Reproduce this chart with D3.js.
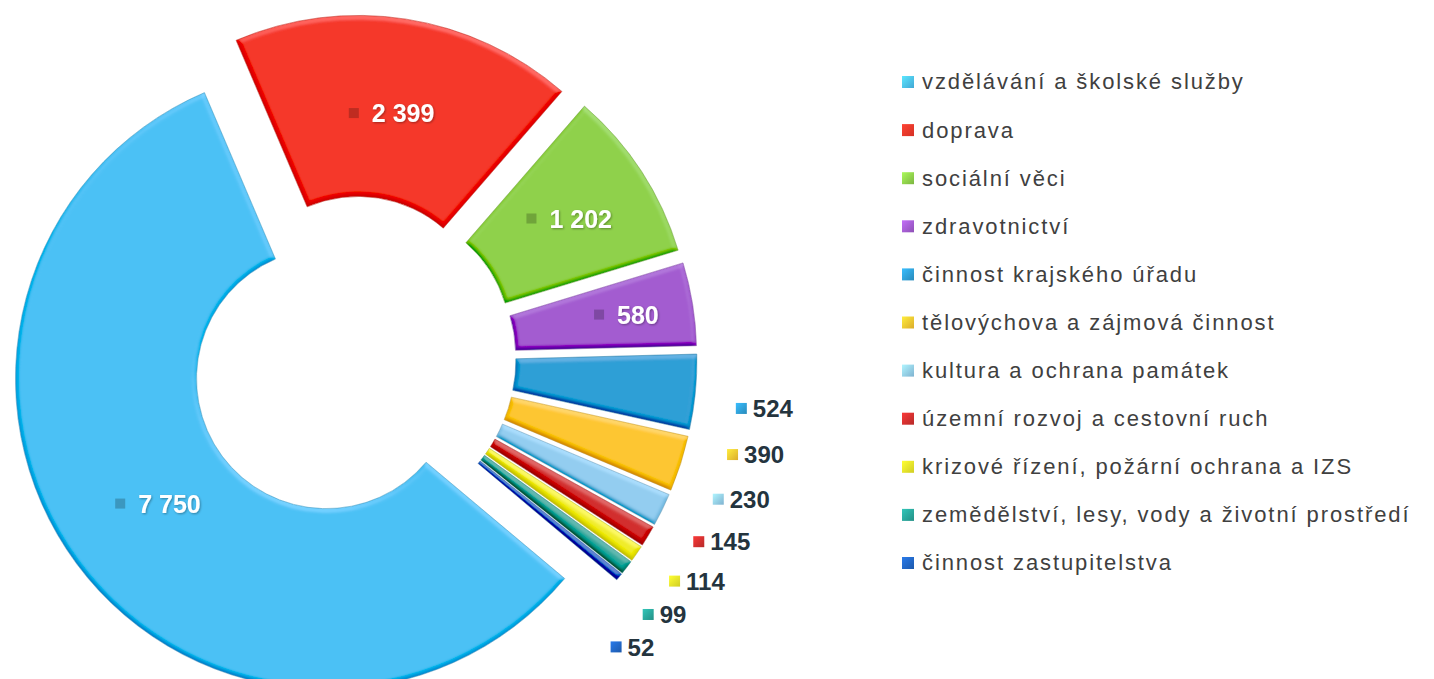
<!DOCTYPE html>
<html>
<head>
<meta charset="utf-8">
<script src="https://cdn.jsdelivr.net/npm/d3@7"></script>
<style>
  html, body { margin: 0; padding: 0; background: #ffffff; }
  svg { display: block; }
</style>
</head>
<body>
<svg id="chart" width="1434" height="679"></svg>
<script>
const categories = [
  "vzdělávání a školské služby",
  "doprava",
  "sociální věci",
  "zdravotnictví",
  "činnost krajského úřadu",
  "tělovýchova a zájmová činnost",
  "kultura a ochrana památek",
  "územní rozvoj a cestovní ruch",
  "krizové řízení, požární ochrana a IZS",
  "zemědělství, lesy, vody a životní prostředí",
  "činnost zastupitelstva"
];
const values = [7750, 2399, 1202, 580, 524, 390, 230, 145, 114, 99, 52];
const valueLabels = ["7 750", "2 399", "1 202", "580", "524", "390", "230", "145", "114", "99", "52"];
const colors = ["#4cc1f5", "#f5382b", "#8fd14b", "#a35cd0", "#2f9fd6", "#fdc632", "#93cdf0", "#d2302f", "#f0ec2a", "#2aa69b", "#2267c5"];
const labelInside = [true, true, true, true, false, false, false, false, false, false, false];

const svg = d3.select("#chart");
const W = 1434, H = 679;
const cx = 353, cy = 359;
const outerR = 311, innerR = 130, explode = 33;
const startDeg = 130;

const pie = d3.pie().sort(null).value(d => d)
  .startAngle(startDeg * Math.PI / 180)
  .endAngle((startDeg + 360) * Math.PI / 180);
const arcs = pie(values);
const arcGen = d3.arc().innerRadius(innerR).outerRadius(outerR);

const defs = svg.append("defs");
colors.forEach((c, i) => {
  const g = defs.append("linearGradient").attr("id", "key" + i)
    .attr("x1", 0).attr("y1", 0).attr("x2", 1).attr("y2", 1);
  g.append("stop").attr("offset", "0%").attr("stop-color", d3.color(c).brighter(0.5));
  g.append("stop").attr("offset", "100%").attr("stop-color", d3.color(c).darker(0.4));
});

// soft bevel filter
const elev = 50;
const bevel = defs.append("filter").attr("id", "bevel")
  .attr("x", "-5%").attr("y", "-5%").attr("width", "110%").attr("height", "110%");
bevel.append("feGaussianBlur").attr("in", "SourceAlpha").attr("stdDeviation", 2.2).attr("result", "blur");
const diff = bevel.append("feDiffuseLighting").attr("in", "blur").attr("surfaceScale", 3)
  .attr("diffuseConstant", 1).attr("lighting-color", "#ffffff").attr("result", "light");
diff.append("feDistantLight").attr("azimuth", 290).attr("elevation", elev);
bevel.append("feComposite").attr("in", "SourceGraphic").attr("in2", "light")
  .attr("operator", "arithmetic").attr("k1", 0).attr("k2", 1).attr("k3", 0.45)
  .attr("k4", -0.45 * Math.sin(elev * Math.PI / 180))
  .attr("result", "lit");
bevel.append("feComposite").attr("in", "lit").attr("in2", "SourceAlpha").attr("operator", "in");

const shadow = defs.append("filter").attr("id", "tshadow")
  .attr("x", "-10%").attr("y", "-20%").attr("width", "130%").attr("height", "150%");
shadow.append("feDropShadow").attr("dx", 1).attr("dy", 1).attr("stdDeviation", 0.8)
  .attr("flood-color", "#000").attr("flood-opacity", 0.35);

const pieG = svg.append("g").attr("transform", `translate(${cx},${cy})`);

function dir(a) { return [Math.sin(a), -Math.cos(a)]; }

const slices = pieG.selectAll("g.slice").data(arcs).enter().append("g")
  .attr("class", "slice")
  .attr("transform", d => {
    const m = (d.startAngle + d.endAngle) / 2;
    const [ux, uy] = dir(m);
    return `translate(${ux * explode},${uy * explode})`;
  });
slices.append("path")
  .attr("d", arcGen)
  .attr("fill", (d, i) => colors[i])
  .attr("filter", "url(#bevel)");
slices.append("path")
  .attr("d", arcGen)
  .attr("fill", "none")
  .attr("stroke", (d, i) => d3.color(colors[i]).darker(0.6))
  .attr("stroke-opacity", 0.6)
  .attr("stroke-width", 1)
  .attr("stroke-linejoin", "round");

// inside labels
const labelFont = "'Liberation Sans', Arial, sans-serif";
arcs.forEach((d, i) => {
  if (!labelInside[i]) return;
  const m = (d.startAngle + d.endAngle) / 2;
  const span = d.endAngle - d.startAngle;
  const [ux, uy] = dir(m);
  const r = 207 + 10 / span;
  const px = cx + ux * (explode + r), py = cy + uy * (explode + r);
  const g = svg.append("g");
  const t = g.append("text").text(valueLabels[i])
    .attr("font-family", labelFont).attr("font-size", 25).attr("font-weight", "bold")
    .attr("fill", "#ffffff").attr("dy", "0.36em").attr("filter", "url(#tshadow)");
  const tw = t.node().getComputedTextLength();
  const total = 10 + 13 + tw;
  const x0 = px - total / 2;
  g.append("rect").attr("x", x0).attr("y", py - 5).attr("width", 10).attr("height", 10)
    .attr("fill", d3.color(colors[i]).darker(0.9)).attr("opacity", 0.8);
  t.attr("x", x0 + 23).attr("y", py);
});

// outside labels: relax angles, keep within the bottom edge
const outside = arcs.map((d, i) => ({ i, a: (d.startAngle + d.endAngle) / 2 }))
  .filter(o => !labelInside[o.i]).sort((p, q) => p.a - q.a);
const minGap = 6.5 * Math.PI / 180;
const R0 = 386;
const yMax = H - 32;
outside.forEach(o => {
  const t = svg.append("text").text(valueLabels[o.i])
    .attr("font-family", labelFont).attr("font-size", 24).attr("font-weight", "bold")
    .attr("fill", "#24343e").attr("dy", "0.36em");
  o.t = t;
  o.total = 11 + 6 + t.node().getComputedTextLength();
});
function labelPos(o, a) {
  const [ux, uy] = dir(a);
  const dist = R0 + Math.abs(ux) * o.total / 2;
  return [cx + ux * dist, cy + uy * dist];
}
// forward relaxation
for (let k = 1; k < outside.length; k++) {
  outside[k].a = Math.max(outside[k].a, outside[k - 1].a + minGap);
}
// bottom clamp, then push back upward (labels close to the chain join it)
const last = outside[outside.length - 1];
while (labelPos(last, last.a)[1] > yMax) last.a -= 0.001;
for (let k = outside.length - 2; k >= 0; k--) {
  const limit = outside[k + 1].a - minGap;
  if (outside[k].a > outside[k + 1].a - 1.3 * minGap) outside[k].a = limit;
}
outside.forEach(o => {
  const [px, py] = labelPos(o, o.a);
  const x0 = px - o.total / 2;
  svg.append("rect").attr("x", x0).attr("y", py - 5.5).attr("width", 11).attr("height", 11)
    .attr("fill", `url(#key${o.i})`);
  o.t.attr("x", x0 + 17).attr("y", py);
});

// legend
const legend = svg.append("g").attr("transform", "translate(902,82)");
const rows = legend.selectAll("g").data(categories).enter().append("g")
  .attr("transform", (d, i) => `translate(0,${i * 48.1})`);
rows.append("rect").attr("x", 0).attr("y", -6).attr("width", 12).attr("height", 12)
  .attr("fill", (d, i) => `url(#key${i})`);
rows.append("text").text(d => d)
  .attr("x", 20).attr("y", 0).attr("dy", "0.34em")
  .attr("font-family", labelFont).attr("font-size", 22)
  .attr("letter-spacing", "1.9px")
  .attr("fill", "#404040");
</script>
</body>
</html>
